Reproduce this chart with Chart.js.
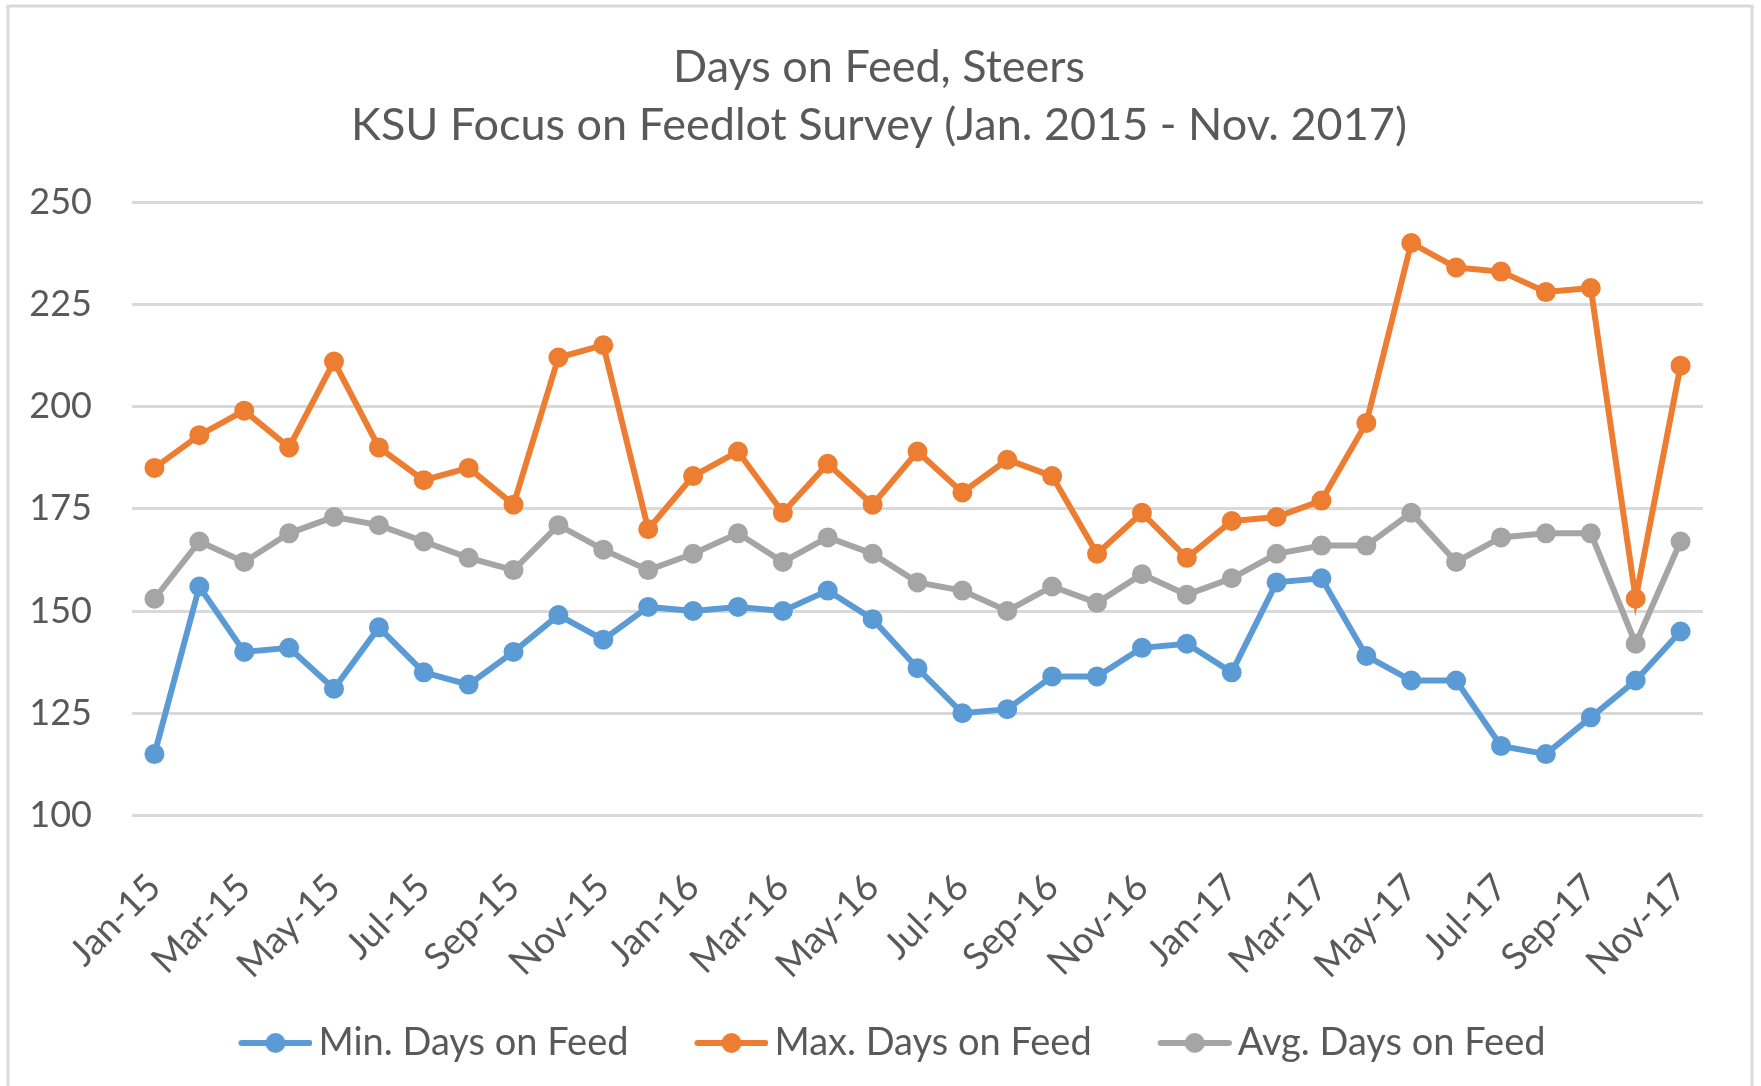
<!DOCTYPE html>
<html>
<head>
<meta charset="utf-8">
<script src="https://cdn.jsdelivr.net/npm/chart.js@4.4.1/dist/chart.umd.min.js"></script>
<style>
  html, body { margin: 0; padding: 0; background: #fff; }
  #wrap { width: 1761px; height: 1086px; position: relative; }
</style>
</head>
<body>
<div id="wrap"><canvas id="feedChart"></canvas></div>
<script>
// Days on feed data
const months = [
  'Jan-15', 'Feb-15', 'Mar-15', 'Apr-15', 'May-15', 'Jun-15', 'Jul-15', 'Aug-15', 'Sep-15', 'Oct-15', 'Nov-15', 'Dec-15',
  'Jan-16', 'Feb-16', 'Mar-16', 'Apr-16', 'May-16', 'Jun-16', 'Jul-16', 'Aug-16', 'Sep-16', 'Oct-16', 'Nov-16', 'Dec-16',
  'Jan-17', 'Feb-17', 'Mar-17', 'Apr-17', 'May-17', 'Jun-17', 'Jul-17', 'Aug-17', 'Sep-17', 'Oct-17', 'Nov-17'
];
const minDays = [
  115, 156, 140, 141, 131, 146, 135, 132, 140, 149, 143, 151,
  150, 151, 150, 155, 148, 136, 125, 126, 134, 134, 141, 142,
  135, 157, 158, 139, 133, 133, 117, 115, 124, 133, 145
];
const maxDays = [
  185, 193, 199, 190, 211, 190, 182, 185, 176, 212, 215, 170,
  183, 189, 174, 186, 176, 189, 179, 187, 183, 164, 174, 163,
  172, 173, 177, 196, 240, 234, 233, 228, 229, 153, 210
];
const avgDays = [
  153, 167, 162, 169, 173, 171, 167, 163, 160, 171, 165, 160,
  164, 169, 162, 168, 164, 157, 155, 150, 156, 152, 159, 154,
  158, 164, 166, 166, 174, 162, 168, 169, 169, 142, 167
];
const yTicks = [100, 125, 150, 175, 200, 225, 250];
const titleLines = ['Days on Feed, Steers', 'KSU Focus on Feedlot Survey (Jan. 2015 - Nov. 2017)'];

const FONT = 'Lato';
const TEXT = '#595959';

// legend icon: short line with a dot, like Excel
// drawn at the right end of a wider canvas so it sits close to the text
function legendIcon(color) {
    const c = document.createElement('canvas');
    c.width = 113; c.height = 24;
    const g = c.getContext('2d');
    const x0 = 39;
    g.strokeStyle = color;
    g.lineWidth = 6;
    g.lineCap = 'round';
    g.beginPath();
    g.moveTo(x0 + 3, 12);
    g.lineTo(x0 + 71, 12);
    g.stroke();
    g.fillStyle = color;
    g.beginPath();
    g.arc(x0 + 37, 12, 10, 0, Math.PI * 2);
    g.fill();
    return c;
}

function series(label, data, color) {
    return {
        label: label,
        data: data,
        borderColor: color,
        backgroundColor: color,
        borderWidth: 6,
        pointRadius: 9,
        pointBorderWidth: 2,
        pointBackgroundColor: color,
        pointStyle: 'circle',
        tension: 0,
        legendIcon: legendIcon(color)
    };
}

// outer chart border
const frame = {
    id: 'frame',
    beforeDraw(chart) {
        const ctx = chart.ctx;
        ctx.save();
        ctx.fillStyle = '#fff';
        ctx.fillRect(0, 0, chart.width, chart.height);
        ctx.strokeStyle = '#d9d9d9';
        ctx.lineWidth = 3;
        ctx.strokeRect(8, 6, 1744, 1100);
        ctx.restore();
    }
};

const chart = new Chart(document.getElementById('feedChart'), {
    type: 'line',
    data: {
        labels: months,
        datasets: [
            series('Min. Days on Feed', minDays, '#5B9BD5'),
            series('Max. Days on Feed', maxDays, '#ED7D31'),
            series('Avg. Days on Feed', avgDays, '#A5A5A5')
        ]
    },
    options: {
        responsive: true,
        maintainAspectRatio: false,
        animation: false,
        layout: { padding: { left: 12, right: 15, top: 0, bottom: 14 } },
        plugins: {
            title: {
                display: true,
                text: titleLines,
                color: TEXT,
                font: { family: FONT, size: 45, weight: 'normal', lineHeight: 1.29 },
                padding: { top: 38, bottom: 48 }
            },
            legend: {
                position: 'bottom',
                labels: {
                    usePointStyle: true,
                    pointStyleWidth: 87,
                    color: TEXT,
                    font: { family: FONT, size: 38 },
                    padding: 40,
                    generateLabels(ch) {
                        return ch.data.datasets.map((ds, i) => ({
                            text: ds.label,
                            fontColor: TEXT,
                            pointStyle: ds.legendIcon,
                            datasetIndex: i,
                            hidden: false,
                            lineWidth: 0
                        }));
                    }
                }
            },
            tooltip: { enabled: false }
        },
        scales: {
            x: {
                offset: true,
                grid: { display: false },
                border: { display: false },
                afterFit(scale) {
                    // the fitted height leaves spare room under the slanted labels
                    scale.height = scale.height - 45;
                },
                ticks: {
                    autoSkip: false,
                    minRotation: 45,
                    maxRotation: 45,
                    color: TEXT,
                    font: { family: FONT, size: 37 },
                    padding: 42,
                    callback: function(val, i) {
                        return i % 2 === 0 ? months[i] : '';
                    }
                }
            },
            y: {
                min: yTicks[0],
                max: yTicks[yTicks.length - 1],
                afterBuildTicks(scale) {
                    scale.ticks = yTicks.map(v => ({ value: v }));
                },
                afterFit(scale) {
                    scale.width = 120;
                },
                grid: { color: '#d9d9d9', lineWidth: 3, drawTicks: false },
                border: { display: false },
                ticks: {
                    color: TEXT,
                    font: { family: FONT, size: 36 },
                    padding: 40
                }
            },
            // empty right-hand axis, only keeps the plot off the right edge
            yRight: {
                position: 'right',
                grid: { display: false },
                border: { display: false },
                ticks: { display: false },
                afterFit(scale) {
                    scale.width = 43;
                }
            }
        }
    },
    plugins: [frame]
});
</script>
</body>
</html>
